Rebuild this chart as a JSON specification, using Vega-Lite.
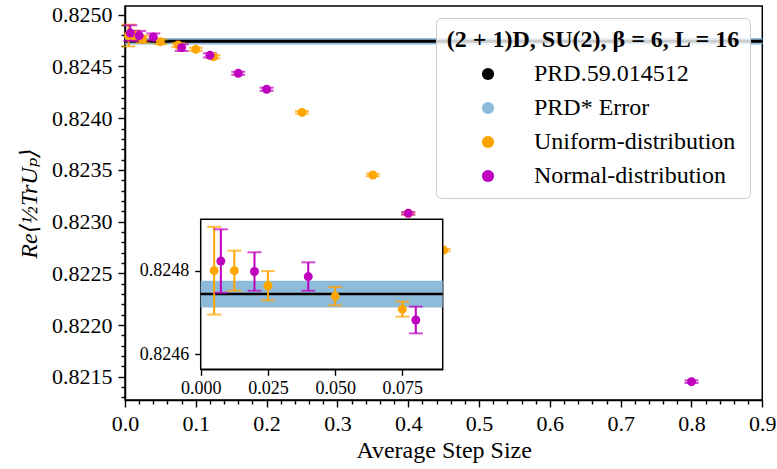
{
  "$schema": "https://vega.github.io/schema/vega-lite/v6.json",
  "width": 637.3,
  "height": 394,
  "autosize": {"type": "none"},
  "padding": {"left": 125, "top": 6, "right": 14.7, "bottom": 69},
  "background": "white",
  "config": {
    "view": {"stroke": "black", "strokeWidth": 1.5},
    "font": "Liberation Serif, DejaVu Serif, serif",
    "axis": {
      "domainColor": "black", "domainWidth": 1.5, "tickColor": "black", "tickWidth": 1.4,
      "labelColor": "black", "titleColor": "black", "labelFont": "Liberation Serif, DejaVu Serif, serif",
      "titleFont": "Liberation Serif, DejaVu Serif, serif", "grid": false, "labelFlush": false, "labelOverlap": false,
      "titleFontWeight": "normal"
    }
  },
  "datasets": {
    "pts": [
      {"series": "Uniform-distribution", "x": 0.005, "y": 0.82480, "err": 0.000105},
      {"series": "Uniform-distribution", "x": 0.0125, "y": 0.82480, "err": 0.000048},
      {"series": "Uniform-distribution", "x": 0.025, "y": 0.824764, "err": 0.000035},
      {"series": "Uniform-distribution", "x": 0.05, "y": 0.824739, "err": 0.000022},
      {"series": "Uniform-distribution", "x": 0.075, "y": 0.824708, "err": 0.000018},
      {"series": "Uniform-distribution", "x": 0.1, "y": 0.824666, "err": 0.000015},
      {"series": "Uniform-distribution", "x": 0.125, "y": 0.824594, "err": 0.000015},
      {"series": "Uniform-distribution", "x": 0.25, "y": 0.824056, "err": 0.000012},
      {"series": "Uniform-distribution", "x": 0.35, "y": 0.823451, "err": 0.000012},
      {"series": "Uniform-distribution", "x": 0.4, "y": 0.823080, "err": 0.000012},
      {"series": "Uniform-distribution", "x": 0.45, "y": 0.822725, "err": 0.000012},
      {"series": "Normal-distribution", "x": 0.0075, "y": 0.824823, "err": 0.000076},
      {"series": "Normal-distribution", "x": 0.02, "y": 0.824798, "err": 0.000046},
      {"series": "Normal-distribution", "x": 0.04, "y": 0.824786, "err": 0.000034},
      {"series": "Normal-distribution", "x": 0.08, "y": 0.824682, "err": 0.000032},
      {"series": "Normal-distribution", "x": 0.12, "y": 0.824608, "err": 0.00002},
      {"series": "Normal-distribution", "x": 0.16, "y": 0.824434, "err": 0.000015},
      {"series": "Normal-distribution", "x": 0.2, "y": 0.824280, "err": 0.000015},
      {"series": "Normal-distribution", "x": 0.4, "y": 0.823080, "err": 0.000012},
      {"series": "Normal-distribution", "x": 0.8, "y": 0.821452, "err": 0.000012}
    ],
    "ref": [{"ref": 0.824744, "lo": 0.824712, "hi": 0.824776}],
    "frame": [{"x0": 0, "x1": 0.09, "y0": 0.824564, "y1": 0.824923}]
  },
  "layer": [
    {
      "data": {"name": "ref"},
      "mark": {"type": "rect", "color": "#8fbbda"},
      "encoding": {
        "y": {"field": "lo", "type": "quantitative",
          "scale": {"domain": [0.821275, 0.825085], "nice": false, "zero": false},
          "axis": {
            "orient": "left", "title": "Re⟨½TrUₚ⟩", "titleFontStyle": "italic", "titleFontSize": 24,
            "titlePadding": 10, "labelFontSize": 22, "labelPadding": 6, "tickSize": 7,
            "values": [0.8213,0.8214,0.8215,0.8216,0.8217,0.8218,0.8219,0.822,0.8221,0.8222,0.8223,0.8224,0.8225,0.8226,0.8227,0.8228,0.8229,0.823,0.8231,0.8232,0.8233,0.8234,0.8235,0.8236,0.8237,0.8238,0.8239,0.824,0.8241,0.8242,0.8243,0.8244,0.8245,0.8246,0.8247,0.8248,0.8249,0.825],
            "labelExpr": "abs(datum.value*2000 - round(datum.value*2000)) < 0.01 ? format(datum.value, '.4f') : ''",
            "tickDash": {"condition": {"test": "abs(datum.value*2000 - round(datum.value*2000)) < 0.01", "value": [7, 0]}, "value": [4, 10]}
          }
        },
        "y2": {"field": "hi"}
      }
    },
    {
      "data": {"name": "ref"},
      "mark": {"type": "rule", "color": "black", "strokeWidth": 3},
      "encoding": {
        "y": {"field": "ref", "type": "quantitative",
          "scale": {"domain": [0.821275, 0.825085], "nice": false, "zero": false}, "axis": null}
      }
    },
    {
      "data": {"name": "pts"},
      "transform": [{"filter": "datum.series === 'Uniform-distribution'"}],
      "mark": {"type": "errorbar", "ticks": true, "size": 14, "thickness": 2, "color": "#ffa500"},
      "encoding": {
        "x": {"field": "x", "type": "quantitative",
          "scale": {"domain": [0, 0.9], "nice": false, "zero": false},
          "axis": {
            "orient": "bottom", "title": "Average Step Size", "titleFontSize": 24, "titlePadding": 4,
            "labelFontSize": 22, "labelPadding": 6, "tickSize": 7,
            "values": [0,0.02,0.04,0.06,0.08,0.1,0.12,0.14,0.16,0.18,0.2,0.22,0.24,0.26,0.28,0.3,0.32,0.34,0.36,0.38,0.4,0.42,0.44,0.46,0.48,0.5,0.52,0.54,0.56,0.58,0.6,0.62,0.64,0.66,0.68,0.7,0.72,0.74,0.76,0.78,0.8,0.82,0.84,0.86,0.88,0.9],
            "labelExpr": "abs(datum.value*10 - round(datum.value*10)) < 0.001 ? format(datum.value, '.1f') : ''",
            "tickDash": {"condition": {"test": "abs(datum.value*10 - round(datum.value*10)) < 0.001", "value": [7, 0]}, "value": [4, 10]}
          }
        },
        "y": {"field": "y", "type": "quantitative",
          "scale": {"domain": [0.821275, 0.825085], "nice": false, "zero": false}, "axis": null},
        "yError": {"field": "err"}
      }
    },
    {
      "data": {"name": "pts"},
      "transform": [{"filter": "datum.series === 'Normal-distribution'"}],
      "mark": {"type": "errorbar", "ticks": true, "size": 14, "thickness": 2, "color": "#bf00bf"},
      "encoding": {
        "x": {"field": "x", "type": "quantitative",
          "scale": {"domain": [0, 0.9], "nice": false, "zero": false}, "axis": null},
        "y": {"field": "y", "type": "quantitative",
          "scale": {"domain": [0.821275, 0.825085], "nice": false, "zero": false}, "axis": null},
        "yError": {"field": "err"}
      }
    },
    {
      "data": {"name": "pts"},
      "mark": {"type": "point", "filled": true, "size": 80, "opacity": 1},
      "encoding": {
        "x": {"field": "x", "type": "quantitative",
          "scale": {"domain": [0, 0.9], "nice": false, "zero": false}, "axis": null},
        "y": {"field": "y", "type": "quantitative",
          "scale": {"domain": [0.821275, 0.825085], "nice": false, "zero": false}, "axis": null},
        "color": {"field": "series", "type": "nominal",
          "scale": {"domain": ["PRD.59.014512", "PRD* Error", "Uniform-distribution", "Normal-distribution"], "range": ["#000000", "#8fbbda", "#ffa500", "#bf00bf"]},
          "legend": {
            "title": "(2 + 1)D, SU(2), β = 6, L = 16",
            "orient": "top-right", "offset": 12, "zindex": 1,
            "titleFont": "Liberation Serif, DejaVu Serif, serif", "titleFontSize": 24, "titleFontWeight": "bold", "titleColor": "black",
            "titleAnchor": "middle", "titlePadding": 10, "titleLimit": 500,
            "labelFont": "Liberation Serif, DejaVu Serif, serif", "labelFontSize": 24, "labelColor": "black", "labelLimit": 500,
            "symbolType": "circle", "symbolSize": 150, "symbolOpacity": 1,
            "symbolOffset": 26, "labelOffset": 34, "rowPadding": 10, "padding": 10,
            "fillColor": "rgba(255,255,255,0.8)", "strokeColor": "#cccccc", "cornerRadius": 5
          }
        }
      }
    },
    {
      "data": {"name": "frame"},
      "mark": {"type": "rect", "fill": "white", "stroke": "black", "strokeWidth": 1.5},
      "encoding": {
        "x": {"field": "x0", "type": "quantitative",
          "scale": {"domain": [0, 0.09], "range": [75.7, 317.7], "nice": false, "zero": false},
          "axis": {
            "orient": "bottom", "offset": -30.7, "title": null, "values": [0, 0.025, 0.05, 0.075],
            "format": ".3f", "labelFontSize": 18, "tickSize": 6, "labelPadding": 4
          }
        },
        "x2": {"field": "x1"},
        "y": {"field": "y0", "type": "quantitative",
          "scale": {"domain": [0.824564, 0.824923], "range": [363.3, 213.3], "nice": false, "zero": false},
          "axis": {
            "orient": "left", "offset": -75.7, "title": null, "values": [0.8246, 0.8248],
            "format": ".4f", "labelFontSize": 18, "tickSize": 6, "labelPadding": 6
          }
        },
        "y2": {"field": "y1"}
      }
    },
    {
      "data": {"name": "ref"},
      "mark": {"type": "rect", "color": "#8fbbda"},
      "encoding": {
        "x": {"datum": 0, "type": "quantitative",
          "scale": {"domain": [0, 0.09], "range": [75.7, 317.7], "nice": false, "zero": false}, "axis": null},
        "x2": {"datum": 0.09},
        "y": {"field": "lo", "type": "quantitative",
          "scale": {"domain": [0.824564, 0.824923], "range": [363.3, 213.3], "nice": false, "zero": false}, "axis": null},
        "y2": {"field": "hi"}
      }
    },
    {
      "data": {"name": "ref"},
      "mark": {"type": "rule", "color": "black", "strokeWidth": 2.5},
      "encoding": {
        "x": {"datum": 0, "type": "quantitative",
          "scale": {"domain": [0, 0.09], "range": [75.7, 317.7], "nice": false, "zero": false}, "axis": null},
        "x2": {"datum": 0.09},
        "y": {"field": "ref", "type": "quantitative",
          "scale": {"domain": [0.824564, 0.824923], "range": [363.3, 213.3], "nice": false, "zero": false}, "axis": null}
      }
    },
    {
      "data": {"name": "pts"},
      "transform": [{"filter": "datum.x < 0.09 && datum.series === 'Uniform-distribution'"}],
      "mark": {"type": "errorbar", "ticks": true, "size": 14, "thickness": 2, "color": "#ffa500"},
      "encoding": {
        "x": {"field": "x", "type": "quantitative",
          "scale": {"domain": [0, 0.09], "range": [75.7, 317.7], "nice": false, "zero": false}, "axis": null},
        "y": {"field": "y", "type": "quantitative",
          "scale": {"domain": [0.824564, 0.824923], "range": [363.3, 213.3], "nice": false, "zero": false}, "axis": null},
        "yError": {"field": "err"}
      }
    },
    {
      "data": {"name": "pts"},
      "transform": [{"filter": "datum.x < 0.09 && datum.series === 'Normal-distribution'"}],
      "mark": {"type": "errorbar", "ticks": true, "size": 14, "thickness": 2, "color": "#bf00bf"},
      "encoding": {
        "x": {"field": "x", "type": "quantitative",
          "scale": {"domain": [0, 0.09], "range": [75.7, 317.7], "nice": false, "zero": false}, "axis": null},
        "y": {"field": "y", "type": "quantitative",
          "scale": {"domain": [0.824564, 0.824923], "range": [363.3, 213.3], "nice": false, "zero": false}, "axis": null},
        "yError": {"field": "err"}
      }
    },
    {
      "data": {"name": "pts"},
      "transform": [{"filter": "datum.x < 0.09"}],
      "mark": {"type": "point", "filled": true, "size": 80, "opacity": 1},
      "encoding": {
        "x": {"field": "x", "type": "quantitative",
          "scale": {"domain": [0, 0.09], "range": [75.7, 317.7], "nice": false, "zero": false}, "axis": null},
        "y": {"field": "y", "type": "quantitative",
          "scale": {"domain": [0.824564, 0.824923], "range": [363.3, 213.3], "nice": false, "zero": false}, "axis": null},
        "color": {"field": "series", "type": "nominal",
          "scale": {"domain": ["PRD.59.014512", "PRD* Error", "Uniform-distribution", "Normal-distribution"], "range": ["#000000", "#8fbbda", "#ffa500", "#bf00bf"]}}
      }
    }
  ],
  "resolve": {"scale": {"x": "independent", "y": "independent"}}
}
